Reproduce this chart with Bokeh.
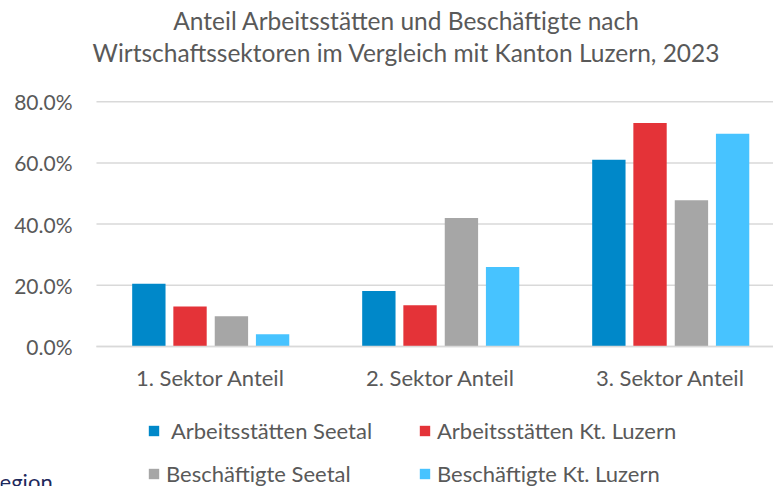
from bokeh.plotting import figure
from bokeh.models import (ColumnDataSource, FixedTicker, Range1d, Label, Legend,
                          LegendItem, NumeralTickFormatter, LinearAxis)
from bokeh.transform import dodge
from bokeh.embed import file_html
from bokeh.resources import INLINE

# ---- data ----
categories = ["1. Sektor Anteil", "2. Sektor Anteil", "3. Sektor Anteil"]
series_names = [" Arbeitsstätten Seetal", "Arbeitsstätten Kt. Luzern",
                "Beschäftigte Seetal", "Beschäftigte Kt. Luzern"]
arbeitsstaetten_seetal = [0.205, 0.181, 0.610]
arbeitsstaetten_luzern = [0.131, 0.135, 0.730]
beschaeftigte_seetal = [0.099, 0.420, 0.478]
beschaeftigte_luzern = [0.040, 0.260, 0.695]
y_ticks = [0.0, 0.2, 0.4, 0.6, 0.8]
title_lines = ["Anteil Arbeitsstätten und Beschäftigte nach",
               "Wirtschaftssektoren im Vergleich mit Kanton Luzern, 2023"]
cut_text = "Region"

colors = ["#0088c9", "#e43338", "#a6a6a6", "#47c3ff"]
values = [arbeitsstaetten_seetal, arbeitsstaetten_luzern,
          beschaeftigte_seetal, beschaeftigte_luzern]
offsets = [-0.268, -0.089, 0.091, 0.270]

FONT = "Lato"
TXT = "#595959"
GRID = "#d9d9d9"

# frame covers the full canvas; plot area spans x in [X_LEFT, X_RIGHT]
X_LEFT, X_RIGHT = -0.4957, 2.4478

x_idx = list(range(len(categories)))
src = ColumnDataSource(dict(x=x_idx, s0=values[0], s1=values[1],
                            s2=values[2], s3=values[3]))

p = figure(width=773, height=486, output_backend="svg", toolbar_location=None,
           x_range=Range1d(-0.9130, X_RIGHT), y_range=Range1d(-0.4575, 1.1307),
           x_axis_location=None, y_axis_location=None,
           min_border=0)
p.outline_line_color = None
p.background_fill_color = "white"
p.border_fill_color = "white"
p.xgrid.visible = False
p.ygrid.visible = False

# horizontal gridlines across the plot area
p.segment(x0=[X_LEFT] * len(y_ticks), x1=[X_RIGHT] * len(y_ticks),
          y0=y_ticks, y1=y_ticks, line_color=GRID, line_width=1.5)

renderers = []
for i in range(4):
    r = p.vbar(x=dodge("x", offsets[i]), top="s%d" % i, width=0.145,
               source=src, fill_color=colors[i], line_color=None)
    renderers.append(r)

# axes fixed inside the frame
xaxis = LinearAxis(fixed_location=0, bounds=(X_LEFT, X_RIGHT))
xaxis.ticker = FixedTicker(ticks=x_idx)
xaxis.major_label_overrides = {i: c for i, c in enumerate(categories)}
xaxis.major_tick_line_color = None
xaxis.minor_tick_line_color = None
xaxis.axis_line_color = GRID
xaxis.axis_line_width = 1.5
xaxis.major_label_text_font = FONT
xaxis.major_label_text_font_size = "22px"
xaxis.major_label_text_color = TXT
xaxis.major_label_standoff = 11
p.add_layout(xaxis, "below")

yaxis = LinearAxis(fixed_location=X_LEFT, bounds=(0, 0.8))
yaxis.ticker = FixedTicker(ticks=y_ticks)
yaxis.formatter = NumeralTickFormatter(format="0.0%")
yaxis.axis_line_color = None
yaxis.major_tick_line_color = None
yaxis.minor_tick_line_color = None
yaxis.major_label_text_font = FONT
yaxis.major_label_text_font_size = "21px"
yaxis.major_label_text_color = TXT
yaxis.major_label_standoff = 18
p.add_layout(yaxis, "left")

# title (two centred lines)
for sy, line in zip([466, 434], title_lines):
    p.add_layout(Label(x=406, y=sy, x_units="screen", y_units="screen",
                       text=line, text_align="center", text_baseline="middle",
                       text_font=FONT, text_font_size="24.5px", text_color=TXT))

# cut-off text at bottom left
p.add_layout(Label(x=-14, y=5, x_units="screen", y_units="screen",
                   text=cut_text, text_align="left", text_baseline="alphabetic",
                   text_font=FONT, text_font_size="22px", text_color="#1f2a5c"))

# legend (column-wise fill -> order items so rows read as in the original)
order = [0, 2, 1, 3]
items = [LegendItem(label=series_names[i], renderers=[renderers[i]]) for i in order]
legend = Legend(items=items, location=(147, -1), ncols=2,
                glyph_width=13, glyph_height=13, label_standoff=6,
                label_width=236, label_height=13, spacing=16,
                label_text_font=FONT, label_text_font_size="22px",
                label_text_color=TXT, border_line_color=None,
                background_fill_alpha=0, padding=0, margin=0)
p.add_layout(legend, "center")

open("out.html", "w").write(file_html(p, INLINE))
